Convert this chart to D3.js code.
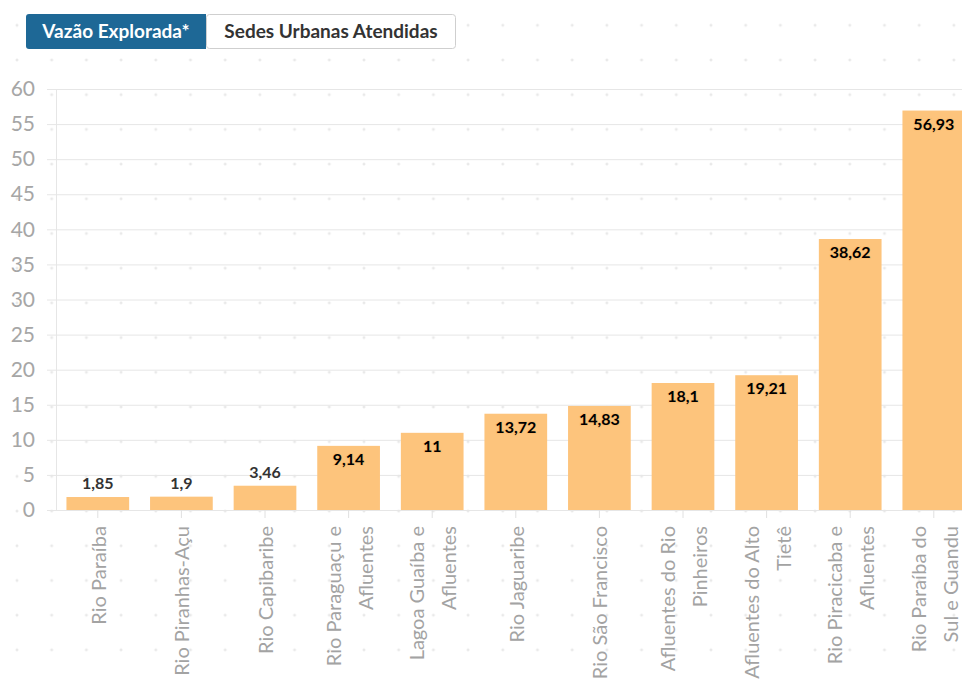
<!DOCTYPE html>
<html>
<head>
<meta charset="utf-8">
<script src="https://cdn.jsdelivr.net/npm/d3@7"></script>
<style>
  html, body { margin: 0; padding: 0; background: #fff; overflow: hidden; }
  svg { display: block; font-family: Lato, "Noto Sans", sans-serif; }
</style>
</head>
<body>
<svg id="chart" width="962" height="682"></svg>
<script>
// River basins (line breaks mark how each axis label wraps)
const categories = [
  "Rio Paraíba",
  "Rio Piranhas-Açu",
  "Rio Capibaribe",
  "Rio Paraguaçu e\nAfluentes",
  "Lagoa Guaíba e\nAfluentes",
  "Rio Jaguaribe",
  "Rio São Francisco",
  "Afluentes do Rio\nPinheiros",
  "Afluentes do Alto\nTietê",
  "Rio Piracicaba e\nAfluentes",
  "Rio Paraíba do\nSul e Guandu"
];
// Exploited flow per basin
const values = [1.85, 1.9, 3.46, 9.14, 11, 13.72, 14.83, 18.1, 19.21, 38.62, 56.93];
const yTicks = [0, 5, 10, 15, 20, 25, 30, 35, 40, 45, 50, 55, 60];
const buttons = ["Vazão Explorada*", "Sedes Urbanas Atendidas"];

const W = 962, H = 682;
const svg = d3.select("#chart");
const fmt = v => String(v).replace(".", ",");

// Faint cross-hair dot grid behind everything
const step = 34.7;
const defs = svg.append("defs");
const pat = defs.append("pattern")
  .attr("id", "dots")
  .attr("patternUnits", "userSpaceOnUse")
  .attr("width", step).attr("height", step)
  .attr("x", 17 - 2).attr("y", 60 - 2);
pat.append("path")
  .attr("d", "M0.5,2H3.5M2,0.5V3.5")
  .attr("stroke", "#e2e2e2")
  .attr("stroke-width", 1)
  .attr("fill", "none");
svg.append("rect").attr("width", W).attr("height", H).attr("fill", "url(#dots)");

// Toggle buttons
const btnX = [26, 206], btnW = [180, 250];
const btn = svg.append("g").attr("class", "buttons");
btn.append("rect").attr("x", btnX[1] + 0.5).attr("y", 14.5).attr("width", btnW[1] - 1).attr("height", 34)
  .attr("rx", 3).attr("fill", "#fff").attr("stroke", "#cfcfcf");
btn.append("path")
  .attr("d", `M${btnX[0] + 3},14H${btnX[0] + btnW[0]}V49H${btnX[0] + 3}Q${btnX[0]},49 ${btnX[0]},46V17Q${btnX[0]},14 ${btnX[0] + 3},14Z`)
  .attr("fill", "#1e6896");
btn.selectAll("text").data(buttons).join("text")
  .attr("x", (d, i) => btnX[i] + btnW[i] / 2)
  .attr("y", 37.5)
  .attr("text-anchor", "middle")
  .attr("font-size", 19)
  .attr("font-weight", 700)
  .attr("fill", (d, i) => i === 0 ? "#fff" : "#333")
  .text(d => d);

// Scales
const x = d3.scaleBand().domain(categories).range([56, 975.6]).paddingInner(0.25).paddingOuter(0.125);
const y = d3.scaleLinear().domain([0, 60]).range([510, 89]);

// Y axis with full-width gridlines
const yAxis = svg.append("g")
  .attr("transform", "translate(47,0)")
  .call(d3.axisLeft(y).tickValues(yTicks).tickSize(-(W - 47)).tickPadding(12).tickFormat(d3.format("d")));
yAxis.select(".domain").remove();
yAxis.selectAll(".tick line").attr("stroke", "#e6e6e6");
yAxis.selectAll(".tick text")
  .attr("font-family", "Lato, sans-serif")
  .attr("font-size", 21)
  .attr("fill", "#a6a6a6");

// Vertical axis line
svg.append("line")
  .attr("x1", 56.5).attr("x2", 56.5)
  .attr("y1", y(60)).attr("y2", y(0))
  .attr("stroke", "#e6e6e6");

// Bars
svg.append("g").selectAll("rect").data(values).join("rect")
  .attr("x", (d, i) => x(categories[i]))
  .attr("y", d => y(d))
  .attr("width", x.bandwidth())
  .attr("height", d => y(0) - y(d))
  .attr("fill", "#fdc47c");

// X axis ticks at band centres
const xAxis = svg.append("g")
  .attr("transform", `translate(0,${y(0)})`)
  .call(d3.axisBottom(x).tickSize(8).tickFormat(""));
xAxis.select(".domain").remove();
xAxis.selectAll(".tick line").attr("stroke", "#e0e0e0");

// Rotated, wrapped category labels
const lineGap = 32;
const lbl = svg.append("g").selectAll("g").data(categories).join("g")
  .attr("transform", d => `translate(${x(d) + x.bandwidth() / 2},526) rotate(-90)`);
lbl.each(function (d) {
  const lines = d.split("\n");
  d3.select(this).selectAll("text").data(lines).join("text")
    .attr("x", 0)
    .attr("y", (l, i) => (i - (lines.length - 1) / 2) * lineGap)
    .attr("dominant-baseline", "central")
    .attr("text-anchor", "end")
    .attr("font-size", 20)
    .attr("fill", "#a3a3a3")
    .text(l => l);
});

// Value labels: inside the bar top when there is room, above otherwise
svg.append("g").selectAll("text").data(values).join("text")
  .each(function (d, i) {
    const inside = y(0) - y(d) > 30;
    d3.select(this)
      .attr("x", x(categories[i]) + x.bandwidth() / 2)
      .attr("y", inside ? y(d) + 19 : y(d) - 8)
      .attr("fill", inside ? "#000" : "#333")
      .attr("stroke", inside ? "#f7b463" : "none")
      .attr("stroke-opacity", 0.45)
      .attr("stroke-width", 2)
      .attr("paint-order", "stroke");
  })
  .attr("text-anchor", "middle")
  .attr("font-size", 16)
  .attr("font-weight", 700)
  .text(d => fmt(d));
</script>
</body>
</html>
